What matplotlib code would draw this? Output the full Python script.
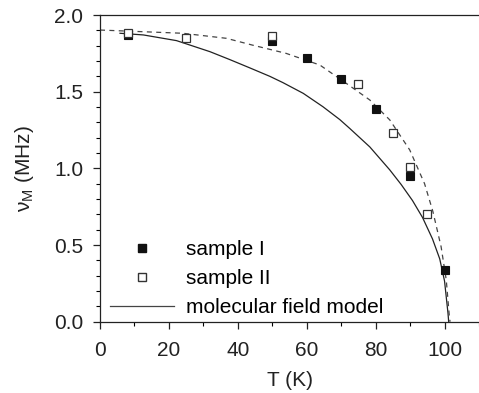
import numpy as np
import matplotlib
matplotlib.use('agg')
import matplotlib.pyplot as plt
from matplotlib.lines import Line2D
from matplotlib.ticker import MultipleLocator, FormatStrFormatter

plt.rcParams['font.family'] = ['Liberation Sans', 'DejaVu Sans']
plt.rcParams['mathtext.fontset'] = 'custom'
plt.rcParams['mathtext.rm'] = 'Liberation Sans'

# sample I (filled squares)
T1 = [8, 50, 60, 70, 80, 90, 100]
nu1 = [1.87, 1.83, 1.72, 1.58, 1.39, 0.95, 0.335]
# sample II (open squares)
T2 = [8, 25, 50, 75, 85, 90, 95]
nu2 = [1.88, 1.85, 1.86, 1.55, 1.23, 1.01, 0.70]

# molecular field model (solid)
T_mf = [5.8, 12.6, 22.2, 31.9, 37.7, 43.5, 49.3, 53.1, 59.0, 64.7, 69.6,
        72.5, 78.3, 84.1, 87.4, 90.7, 93.6, 96.5, 98.6, 100.0, 101.0, 101.2]
nu_mf = [1.881, 1.870, 1.833, 1.761, 1.709, 1.655, 1.600, 1.559, 1.489, 1.402,
         1.318, 1.26, 1.14, 0.99, 0.895, 0.79, 0.68, 0.54, 0.41, 0.265, 0.055, 0.0]

# dashed guide
T_d = [0, 24, 36.7, 44.2, 54, 63.8, 71.5, 78.3, 84.1, 89.9, 94.2, 96.6,
       99.0, 100.5, 101.4, 101.6]
nu_d = [1.902, 1.881, 1.848, 1.804, 1.75, 1.674, 1.554, 1.446, 1.316, 1.12,
        0.90, 0.72, 0.489, 0.272, 0.033, 0.0]

fig = plt.figure(figsize=(4.79, 3.93), dpi=100)
ax = fig.add_axes([0.2088, 0.1814, 0.7912, 0.7804])

ax.plot(T_mf, nu_mf, color='#222222', lw=0.9)
ax.plot(T_d, nu_d, color='#444444', lw=0.9, ls=(0, (4, 3.5)))
ax.plot(T1, nu1, ls='none', marker='s', ms=5.5, mfc='#111111', mec='#111111', mew=0.8)
ax.plot(T2, nu2, ls='none', marker='s', ms=5.5, mfc='white', mec='#333333', mew=0.9)

ax.set_xlim(0, 110)
ax.set_ylim(0, 2.0)
ax.xaxis.set_major_locator(MultipleLocator(20))
ax.xaxis.set_minor_locator(MultipleLocator(10))
ax.yaxis.set_major_locator(MultipleLocator(0.5))
ax.yaxis.set_minor_locator(MultipleLocator(0.1))
ax.yaxis.set_major_formatter(FormatStrFormatter('%.1f'))
ax.tick_params(which='major', direction='out', length=5, width=0.9, labelsize=15,
               colors='#222222', pad=7)
ax.tick_params(axis='x', which='major', pad=9)
ax.tick_params(which='minor', direction='out', length=3, width=0.8)
ax.spines['right'].set_visible(False)
for s in ['left', 'bottom', 'top']:
    ax.spines[s].set_linewidth(0.9)
    ax.spines[s].set_color('#222222')

ax.set_xlabel('T (K)', fontsize=15, color='#222222', labelpad=8)
ax.set_ylabel('ν$_\\mathregular{M}$ (MHz)', fontsize=15, color='#222222', labelpad=13)

handles = [Line2D([], [], ls='none', marker='s', ms=5.5, mfc='#111111', mec='#111111'),
           Line2D([], [], ls='none', marker='s', ms=5.5, mfc='white', mec='#333333'),
           Line2D([], [], color='#444444', lw=0.9)]
ax.legend(handles, ['sample I', 'sample II', 'molecular field model'],
          loc='lower left', bbox_to_anchor=(0.026, 0.015), frameon=False,
          fontsize=15, handlelength=3.1, handletextpad=0.56, labelspacing=0.48,
          borderpad=0, borderaxespad=0)

fig.savefig('out.png', dpi=100)
